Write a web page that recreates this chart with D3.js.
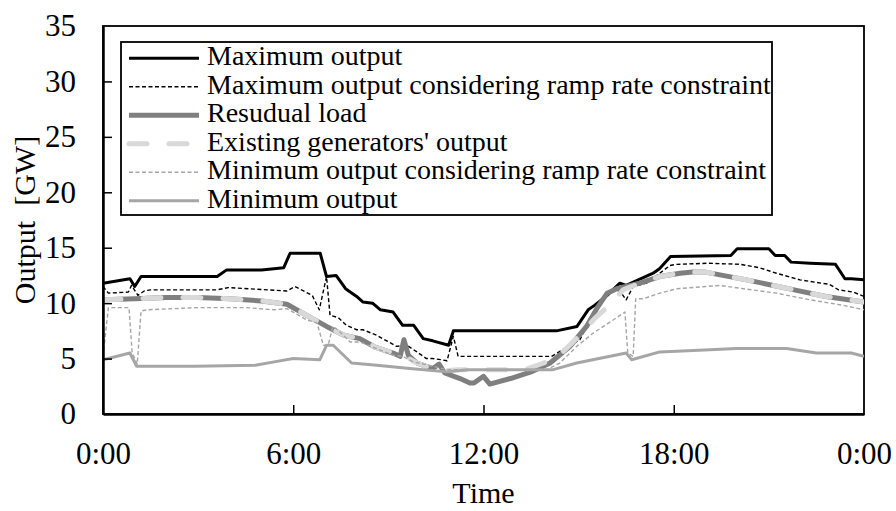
<!DOCTYPE html>
<html>
<head>
<meta charset="utf-8">
<script src="https://cdn.jsdelivr.net/npm/d3@7"></script>
<style>
  html, body { margin: 0; padding: 0; background: #fff; }
  svg { display: block; }
  text { font-family: "Liberation Serif", "Times New Roman", serif; fill: #000; }
</style>
</head>
<body>
<svg id="chart" width="896" height="511"></svg>
<script>
// ---- Data (hours of day, output in GW) ----
const xTickHours = [0, 6, 12, 18, 24];
const xTickLabels = ["0:00", "6:00", "12:00", "18:00", "0:00"];
const yTicks = [0, 5, 10, 15, 20, 25, 30, 35];

const maxOutputHours  = [0, 0.85, 1.0, 1.2, 3.6, 3.9, 5.0, 5.7, 5.9, 6.85, 7.05, 7.35, 7.65, 8.0, 8.2, 8.5, 8.75, 9.15, 9.45, 9.8, 10.1, 10.4, 10.9, 11.05, 14.3, 14.95, 15.3, 15.5, 15.9, 16.3, 16.5, 16.95, 17.35, 17.55, 17.9, 19.8, 20.0, 21.0, 21.2, 21.5, 21.7, 22.3, 23.1, 23.4, 23.6, 24];
const maxOutputValues = [11.8, 12.2, 11.5, 12.4, 12.4, 13.0, 13.0, 13.2, 14.5, 14.5, 12.4, 12.5, 11.3, 10.6, 10.1, 10.0, 9.4, 9.2, 8.0, 8.0, 6.8, 6.6, 6.2, 7.5, 7.5, 7.9, 9.4, 9.8, 10.7, 11.8, 11.6, 12.2, 12.7, 13.1, 14.2, 14.3, 14.9, 14.9, 14.3, 14.3, 13.7, 13.6, 13.5, 12.2, 12.2, 12.1];

const maxRampHours  = [0, 0.17, 0.8, 0.9, 1.1, 1.3, 1.5, 3.6, 3.95, 4.6, 5.8, 6.05, 6.6, 6.82, 7.05, 7.16, 7.42, 7.68, 8.0, 8.2, 8.63, 9.26, 9.58, 9.9, 10.2, 10.4, 10.65, 10.85, 11.05, 11.2, 14.15, 14.73, 15.04, 15.36, 15.78, 16.1, 16.3, 16.5, 16.72, 17.14, 17.56, 17.88, 18.1, 19.1, 20.1, 20.7, 21.24, 21.98, 22.9, 23.2, 23.66, 24];
const maxRampValues = [11.5, 10.9, 11.0, 11.6, 10.7, 11.1, 11.2, 11.2, 11.4, 11.3, 11.1, 11.5, 10.7, 9.4, 12.4, 8.9, 8.7, 8.0, 7.6, 7.6, 7.1, 6.1, 6.2, 5.6, 5.0, 5.0, 4.9, 4.8, 7.0, 5.2, 5.2, 6.2, 6.7, 8.5, 10.3, 11.2, 11.1, 10.3, 11.5, 11.8, 12.7, 13.4, 13.5, 13.6, 13.5, 13.2, 12.7, 12.1, 11.7, 11.2, 11.0, 10.6];

const residualHours  = [0, 1, 2, 3, 4, 5, 5.8, 6.3, 7.05, 7.6, 8.1, 8.6, 9.15, 9.37, 9.49, 9.63, 9.9, 10.4, 10.6, 10.78, 11.26, 11.57, 11.7, 12.0, 12.2, 12.85, 13.5, 14.1, 14.73, 15.25, 15.57, 15.9, 16.2, 16.93, 17.56, 18.2, 18.6, 19.0, 20.3, 21.8, 22.8, 24];
const residualValues = [10.3, 10.4, 10.5, 10.5, 10.4, 10.2, 9.9, 9.1, 7.9, 7.1, 6.8, 6.0, 5.5, 5.2, 6.7, 5.3, 4.6, 4.1, 4.5, 3.7, 3.2, 2.8, 2.8, 3.4, 2.7, 3.2, 3.8, 4.6, 6.1, 7.9, 9.5, 10.9, 11.3, 11.8, 12.4, 12.7, 12.8, 12.8, 12.1, 11.2, 10.6, 10.1];

const existingHours  = [0, 1, 2, 3, 4, 5, 5.8, 6.3, 7.05, 7.6, 8.1, 8.6, 9.15, 9.6, 9.9, 10.4, 10.8, 11.2, 13.3, 13.9, 14.5, 15.0, 15.5, 16.0, 16.4, 16.93, 17.56, 18.2, 18.6, 19.0, 20.3, 21.8, 22.8, 24];
const existingValues = [10.3, 10.4, 10.5, 10.5, 10.4, 10.2, 9.9, 9.1, 7.9, 7.1, 6.8, 6.0, 5.5, 5.1, 4.6, 4.1, 3.9, 4.0, 4.0, 4.6, 5.6, 7.0, 8.6, 9.9, 11.2, 11.8, 12.4, 12.7, 12.8, 12.8, 12.1, 11.2, 10.6, 10.1];

const minRampHours  = [0, 0.17, 0.82, 0.92, 1.08, 1.2, 1.4, 3.0, 4.5, 5.4, 5.8, 6.42, 6.75, 6.95, 7.1, 7.25, 7.4, 7.79, 8.1, 9.15, 9.45, 9.79, 10.42, 10.84, 14.0, 14.41, 14.94, 15.46, 16.1, 16.46, 16.55, 16.72, 16.8, 17.04, 17.56, 18.1, 19.45, 20.2, 21.24, 22.3, 23.35, 24];
const minRampValues = [5.2, 9.6, 9.6, 5.5, 4.5, 9.3, 9.4, 9.6, 9.6, 9.4, 9.5, 8.5, 8.2, 6.2, 6.2, 7.9, 7.6, 6.5, 6.5, 5.3, 5.2, 4.7, 4.3, 4.0, 4.0, 4.6, 6.1, 7.3, 8.5, 9.2, 5.5, 5.2, 10.4, 10.4, 10.9, 11.3, 11.6, 11.3, 10.9, 10.3, 9.8, 9.4];

const minOutputHours  = [0, 0.85, 1.06, 2.9, 4.8, 5.4, 6.0, 6.84, 7.05, 7.26, 7.84, 8.63, 9.68, 10.84, 11.5, 14.2, 14.94, 16.5, 16.67, 17.56, 19.14, 19.98, 21.56, 22.5, 23.6, 24];
const minOutputValues = [4.9, 5.5, 4.3, 4.3, 4.4, 4.7, 5.0, 4.9, 6.2, 6.2, 4.6, 4.4, 4.1, 3.8, 4.0, 4.0, 4.6, 5.5, 4.9, 5.6, 5.8, 5.9, 5.9, 5.5, 5.5, 5.2];

const seriesNames = [
  "Maximum output",
  "Maximum output considering ramp rate constraint",
  "Resudual load",
  "Existing generators' output",
  "Minimum output considering ramp rate constraint",
  "Minimum output"
];

// ---- Styles per series ----
const styles = [
  { color: "#000000", width: 3,   dash: null,      cap: "butt" },
  { color: "#000000", width: 1.4, dash: "4,2.5",   cap: "butt" },
  { color: "#7f7f7f", width: 5,   dash: null,      cap: "butt" },
  { color: "#d9d9d9", width: 5,   dash: "18,22",   cap: "round" },
  { color: "#a6a6a6", width: 1.4, dash: "4,2.5",   cap: "butt" },
  { color: "#a6a6a6", width: 3,   dash: null,      cap: "butt" }
];

const zip = (hs, vs) => hs.map((h, i) => [h, vs[i]]);
const series = [
  zip(maxOutputHours, maxOutputValues),
  zip(maxRampHours, maxRampValues),
  zip(residualHours, residualValues),
  zip(existingHours, existingValues),
  zip(minRampHours, minRampValues),
  zip(minOutputHours, minOutputValues)
];

// ---- Layout ----
const svg = d3.select("#chart");
const plot = { left: 103, right: 864, top: 26, bottom: 414 };

const x = d3.scaleLinear().domain([0, 24]).range([plot.left, plot.right]);
const y = d3.scaleLinear().domain([0, 35]).range([plot.bottom, plot.top]);

svg.append("defs").append("clipPath").attr("id", "plotClip")
  .append("rect")
  .attr("x", plot.left).attr("y", plot.top)
  .attr("width", plot.right - plot.left).attr("height", plot.bottom - plot.top);

// Frame (top and right sides)
svg.append("rect")
  .attr("x", plot.left).attr("y", plot.top)
  .attr("width", plot.right - plot.left).attr("height", plot.bottom - plot.top)
  .attr("fill", "none").attr("stroke", "#000").attr("stroke-width", 1.8);

// Series lines
const line = d3.line().x(d => x(d[0])).y(d => y(d[1]));
const gLines = svg.append("g").attr("clip-path", "url(#plotClip)");
series.forEach((data, i) => {
  const s = styles[i];
  gLines.append("path")
    .datum(data)
    .attr("d", line)
    .attr("fill", "none")
    .attr("stroke", s.color)
    .attr("stroke-width", s.width)
    .attr("stroke-linejoin", "round")
    .attr("stroke-linecap", s.cap)
    .attr("stroke-dasharray", s.dash);
});

// Axes with inward ticks
const xAxis = d3.axisBottom(x)
  .tickValues(xTickHours)
  .tickFormat((d, i) => xTickLabels[i])
  .tickSizeInner(-9).tickSizeOuter(0).tickPadding(28);
const yAxis = d3.axisLeft(y)
  .tickValues(yTicks)
  .tickFormat(d3.format("d"))
  .tickSizeInner(-9).tickSizeOuter(0).tickPadding(27);

const gx = svg.append("g").attr("transform", `translate(0,${plot.bottom})`).call(xAxis);
const gy = svg.append("g").attr("transform", `translate(${plot.left},0)`).call(yAxis);

[gx, gy].forEach(g => {
  g.select(".domain").attr("stroke", "#000").attr("stroke-width", 2.5);
  g.selectAll(".tick line").attr("stroke", "#000").attr("stroke-width", 1.5);
  g.selectAll(".tick text")
    .attr("font-family", "'Liberation Serif', 'Times New Roman', serif")
    .attr("font-size", 31).attr("fill", "#000");
});
// end ticks sit on the frame, so drop them
gx.selectAll(".tick").filter(d => d === 0 || d === 24).select("line").remove();
gy.selectAll(".tick").filter(d => d === 0 || d === 35).select("line").remove();

// Axis titles
svg.append("text")
  .attr("x", (plot.left + plot.right) / 2).attr("y", 503)
  .attr("text-anchor", "middle").attr("font-size", 30)
  .text("Time");
svg.append("text")
  .attr("transform", `translate(35,${(plot.top + plot.bottom) / 2}) rotate(-90)`)
  .attr("text-anchor", "middle").attr("font-size", 30)
  .style("white-space", "pre")
  .text("Output  [GW]");

// Legend
const legend = { x: 121, y: 42, w: 651, h: 173, row0: 58.3, rowStep: 28.5 };
svg.append("rect")
  .attr("x", legend.x).attr("y", legend.y)
  .attr("width", legend.w).attr("height", legend.h)
  .attr("fill", "#fff").attr("stroke", "#000").attr("stroke-width", 1.8);

seriesNames.forEach((name, i) => {
  const s = styles[i];
  const ry = legend.row0 + i * legend.rowStep;
  svg.append("line")
    .attr("x1", 129).attr("x2", 199).attr("y1", ry).attr("y2", ry)
    .attr("stroke", s.color).attr("stroke-width", s.width)
    .attr("stroke-linecap", s.cap)
    .attr("stroke-dasharray", s.dash);
  svg.append("text")
    .attr("x", 207).attr("y", ry + 7)
    .attr("font-size", 28)
    .text(name);
});
</script>
</body>
</html>
